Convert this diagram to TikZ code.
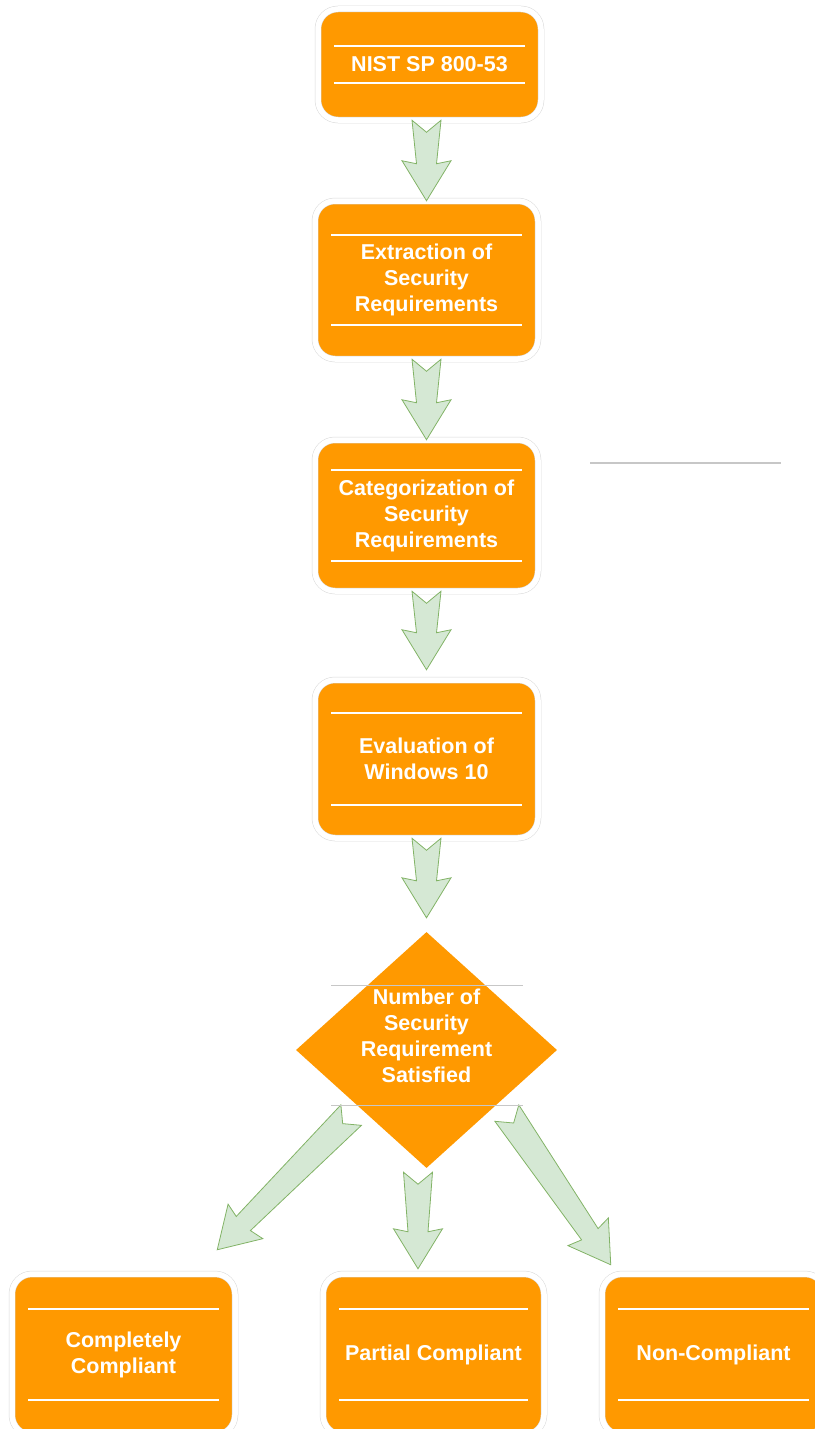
\documentclass[tikz,border=0pt]{standalone}
\usepackage{fontspec}
\setmainfont{Liberation Sans}
\usetikzlibrary{shapes.geometric,calc}
\definecolor{boxorange}{HTML}{FF9900}
\definecolor{arrowfill}{HTML}{D5E8D4}
\definecolor{arrowline}{HTML}{82B366}
\tikzset{
	stage box/.style={rectangle, rounded corners=20pt, fill=boxorange, draw=black!15, line width=0.5pt,
		double=white, double distance=5.5pt, minimum width=223pt, inner sep=0pt, align=center,
		text=white, font=\fontsize{21.5}{26}\selectfont\bfseries,
		path picture={
			\draw[white, line width=1.5pt] ([xshift=16pt,yshift=-#1]path picture bounding box.north west) -- ([xshift=-16pt,yshift=-#1]path picture bounding box.north east);
			\draw[white, line width=1.5pt] ([xshift=16pt,yshift=#1]path picture bounding box.south west) -- ([xshift=-16pt,yshift=#1]path picture bounding box.south east);
		}},
	stage box/.default=33pt,
	decision node/.style={diamond, fill=boxorange, minimum width=261pt, minimum height=236pt, inner sep=0pt},
	decision text/.style={text=white, align=center, font=\fontsize{21.5}{26}\selectfont\bfseries},
	flow arrow/.style={fill=arrowfill, draw=arrowline, line width=0.8pt, line join=miter},
	guide line/.style={draw=black!22, line width=1pt},
}
\newcommand{\flowarrow}[2]{%
	\coordinate (fa-a) at #1;
	\coordinate (fa-b) at #2;
	\coordinate (fa-h) at ($(fa-b)!37pt!(fa-a)$);
	\coordinate (fa-k) at ($(fa-b)!40pt!(fa-a)$);
	\filldraw[flow arrow] ($(fa-a)!14.5pt!90:(fa-b)$) -- ($(fa-a)!12pt!(fa-b)$) -- ($(fa-a)!14.5pt!-90:(fa-b)$)
		-- ($(fa-h)!10pt!-90:(fa-b)$) -- ($(fa-k)!24.5pt!-90:(fa-b)$) -- (fa-b)
		-- ($(fa-k)!24.5pt!90:(fa-b)$) -- ($(fa-h)!10pt!90:(fa-b)$) -- cycle;%
}

\begin{document}
\begin{tikzpicture}[x=1pt, y=-1pt]
	\useasboundingbox (0,0) rectangle (814,1429);

	\node[stage box=37pt, minimum height=111pt] (b1) at (429.5,64.5) {NIST SP 800-53};
	\node[stage box=34pt, minimum height=158pt] (b2) at (426.5,280) {Extraction of\\Security\\Requirements};
	\node[stage box=30pt, minimum height=151pt] (b3) at (426.5,515.5) {Categorization of\\Security\\Requirements};
	\node[stage box=33pt, minimum height=158pt] (b4) at (426.5,759) {Evaluation of\\Windows 10};
	\node[decision node] (d) at (426.5,1050) {};
	\node[decision text] (dt) at ([yshift=14pt]d.center) {Number of\\Security\\Requirement\\Satisfied};
	\node[stage box=35pt, minimum height=161pt] (cA) at (123.5,1354.5) {Completely\\Compliant};
	\node[stage box=35pt, minimum height=161pt, minimum width=221pt] (cB) at (433.5,1354.5) {Partial Compliant};
	\node[stage box=35pt, minimum height=161pt] (cC) at (713.5,1354.5) {Non-Compliant};

	\flowarrow{(b1.south -| b2.north)}{(b2.north)}
	\flowarrow{(b2.south)}{(b3.north)}
	\flowarrow{(b3.south)}{([yshift=10pt]b4.north)}
	\flowarrow{(b4.south)}{([yshift=14pt]d.north)}
	\flowarrow{([xshift=-10pt,yshift=-6pt]d.south west)}{([xshift=-18pt,yshift=24pt]cA.north east)}
	\flowarrow{([xshift=-8.5pt,yshift=-4pt]d.south)}{([xshift=-15.5pt,yshift=5pt]cB.north)}
	\flowarrow{([xshift=15pt,yshift=-4pt]d.south east)}{([xshift=9pt,yshift=9pt]cC.north west)}

	\draw[guide line] ([xshift=-95.5pt,yshift=65pt]d.center) -- ([xshift=96.5pt,yshift=65pt]d.center);
	\draw[guide line] ([xshift=-95.5pt,yshift=-55pt]d.center) -- ([xshift=96.5pt,yshift=-55pt]d.center);
	\draw[guide line, line width=1.5pt] (590,463) -- (781,463);
\end{tikzpicture}
\end{document}
